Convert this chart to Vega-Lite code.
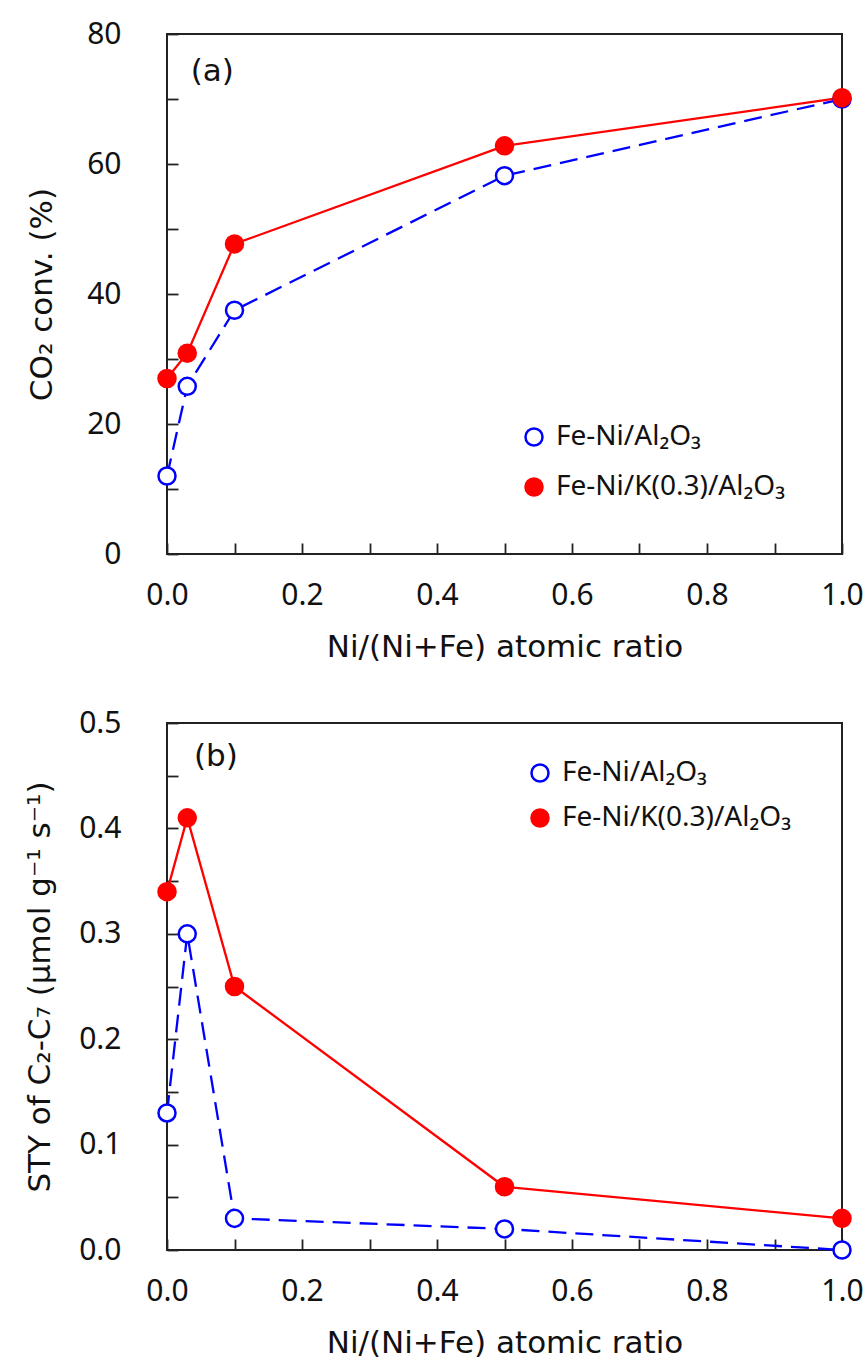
{
  "$schema": "https://vega.github.io/schema/vega-lite/v6.json",
  "background": "white",
  "padding": {"left": 23, "top": 18, "right": 20, "bottom": 0},
  "config": {
    "font": "Noto Sans",
    "view": {"stroke": "#222", "strokeWidth": 2},
    "axis": {
      "domain": false, "grid": false, "labelFlush": false,
      "tickColor": "#222", "tickWidth": 1.8, "tickSize": -11,
      "labelFont": "Noto Sans", "labelFontSize": 30, "labelColor": "#111", "labelPadding": 57,
      "titleFont": "DejaVu Sans", "titleFontSize": 31, "titleFontWeight": "normal", "titleColor": "#111"
    },
    "axisX": {"labelPadding": 37},
    "legend": {
      "title": null, "labelFont": "Noto Sans", "labelFontSize": 28, "labelColor": "#111", "labelLimit": 0,
      "symbolSize": 290, "symbolStrokeWidth": 2.5, "labelOffset": 8
    }
  },
  "datasets": {
    "a": [
      {"x": 0, "y": 12, "s": "Fe-Ni/Al₂O₃"},
      {"x": 0.03, "y": 25.8, "s": "Fe-Ni/Al₂O₃"},
      {"x": 0.1, "y": 37.5, "s": "Fe-Ni/Al₂O₃"},
      {"x": 0.5, "y": 58.2, "s": "Fe-Ni/Al₂O₃"},
      {"x": 1.0, "y": 70, "s": "Fe-Ni/Al₂O₃"},
      {"x": 0, "y": 27, "s": "Fe-Ni/K(0.3)/Al₂O₃"},
      {"x": 0.03, "y": 30.9, "s": "Fe-Ni/K(0.3)/Al₂O₃"},
      {"x": 0.1, "y": 47.7, "s": "Fe-Ni/K(0.3)/Al₂O₃"},
      {"x": 0.5, "y": 62.8, "s": "Fe-Ni/K(0.3)/Al₂O₃"},
      {"x": 1.0, "y": 70.2, "s": "Fe-Ni/K(0.3)/Al₂O₃"}
    ],
    "b": [
      {"x": 0, "y": 0.13, "s": "Fe-Ni/Al₂O₃"},
      {"x": 0.03, "y": 0.30, "s": "Fe-Ni/Al₂O₃"},
      {"x": 0.1, "y": 0.03, "s": "Fe-Ni/Al₂O₃"},
      {"x": 0.5, "y": 0.02, "s": "Fe-Ni/Al₂O₃"},
      {"x": 1.0, "y": 0.0, "s": "Fe-Ni/Al₂O₃"},
      {"x": 0, "y": 0.34, "s": "Fe-Ni/K(0.3)/Al₂O₃"},
      {"x": 0.03, "y": 0.41, "s": "Fe-Ni/K(0.3)/Al₂O₃"},
      {"x": 0.1, "y": 0.25, "s": "Fe-Ni/K(0.3)/Al₂O₃"},
      {"x": 0.5, "y": 0.06, "s": "Fe-Ni/K(0.3)/Al₂O₃"},
      {"x": 1.0, "y": 0.03, "s": "Fe-Ni/K(0.3)/Al₂O₃"}
    ]
  },
  "concat": [
    {
      "width": 675, "height": 520,
      "data": {"name": "a"},
      "encoding": {
        "x": {"field": "x", "type": "quantitative", "scale": {"domain": [0, 1], "nice": false},
              "axis": {"title": "Ni/(Ni+Fe) atomic ratio", "values": [0,0.1,0.2,0.3,0.4,0.5,0.6,0.7,0.8,0.9,1.0],
                       "labelExpr": "(round(datum.value*10) % 2 == 0) ? format(datum.value, '.1f') : ''", "titlePadding": 22}},
        "y": {"field": "y", "type": "quantitative", "scale": {"domain": [0, 80], "nice": false},
              "axis": {"title": "CO₂ conv. (%)", "values": [0,10,20,30,40,50,60,70,80],
                       "labelExpr": "(datum.value % 20 == 0) ? format(datum.value, 'd') : ''", "titlePadding": 28}}
      },
      "layer": [
        {"transform": [{"filter": "datum.s == 'Fe-Ni/Al₂O₃'"}],
         "mark": {"type": "line", "color": "#0000FF", "strokeWidth": 2.3, "strokeDash": [18, 9]}},
        {"transform": [{"filter": "datum.s != 'Fe-Ni/Al₂O₃'"}],
         "mark": {"type": "line", "color": "#FF0000", "strokeWidth": 2.3}},
        {"mark": {"type": "point", "shape": "circle", "size": 290, "strokeWidth": 2.5, "opacity": 1},
         "encoding": {
           "fill": {"field": "s", "type": "nominal", "scale": {"domain": ["Fe-Ni/Al₂O₃", "Fe-Ni/K(0.3)/Al₂O₃"], "range": ["white", "#FF0000"]},
                    "legend": {"orient": "none", "legendX": 353, "legendY": 389, "rowPadding": 22}},
           "stroke": {"field": "s", "type": "nominal", "scale": {"domain": ["Fe-Ni/Al₂O₃", "Fe-Ni/K(0.3)/Al₂O₃"], "range": ["#0000FF", "#FF0000"]},
                    "legend": {"orient": "none", "legendX": 353, "legendY": 389, "rowPadding": 22}}
         }},
        {"transform": [{"filter": "datum.x == 1 && datum.s == 'Fe-Ni/Al₂O₃'"}],
         "mark": {"type": "text", "text": "(a)", "font": "DejaVu Sans", "fontSize": 31, "align": "left", "baseline": "middle", "color": "#111"},
         "encoding": {"x": {"datum": 0.035}, "y": {"datum": 74.2}}}
      ]
    },
    {
      "width": 675, "height": 527,
      "data": {"name": "b"},
      "encoding": {
        "x": {"field": "x", "type": "quantitative", "scale": {"domain": [0, 1], "nice": false},
              "axis": {"title": "Ni/(Ni+Fe) atomic ratio", "values": [0,0.1,0.2,0.3,0.4,0.5,0.6,0.7,0.8,0.9,1.0],
                       "labelExpr": "(round(datum.value*10) % 2 == 0) ? format(datum.value, '.1f') : ''", "titlePadding": 22}},
        "y": {"field": "y", "type": "quantitative", "scale": {"domain": [0, 0.5], "nice": false},
              "axis": {"title": "STY of C₂-C₇ (μmol g⁻¹ s⁻¹)", "values": [0,0.05,0.1,0.15,0.2,0.25,0.3,0.35,0.4,0.45,0.5],
                       "labelExpr": "(round(datum.value*20) % 2 == 0) ? format(datum.value, '.1f') : ''", "titlePadding": 22}}
      },
      "layer": [
        {"transform": [{"filter": "datum.s == 'Fe-Ni/Al₂O₃'"}],
         "mark": {"type": "line", "color": "#0000FF", "strokeWidth": 2.3, "strokeDash": [18, 9]}},
        {"transform": [{"filter": "datum.s != 'Fe-Ni/Al₂O₃'"}],
         "mark": {"type": "line", "color": "#FF0000", "strokeWidth": 2.3}},
        {"mark": {"type": "point", "shape": "circle", "size": 290, "strokeWidth": 2.5, "opacity": 1},
         "encoding": {
           "fill": {"field": "s", "type": "nominal", "scale": {"domain": ["Fe-Ni/Al₂O₃", "Fe-Ni/K(0.3)/Al₂O₃"], "range": ["white", "#FF0000"]},
                    "legend": {"orient": "none", "legendX": 359, "legendY": 36, "rowPadding": 17}},
           "stroke": {"field": "s", "type": "nominal", "scale": {"domain": ["Fe-Ni/Al₂O₃", "Fe-Ni/K(0.3)/Al₂O₃"], "range": ["#0000FF", "#FF0000"]},
                    "legend": {"orient": "none", "legendX": 359, "legendY": 36, "rowPadding": 17}}
         }},
        {"transform": [{"filter": "datum.x == 1 && datum.s == 'Fe-Ni/Al₂O₃'"}],
         "mark": {"type": "text", "text": "(b)", "font": "DejaVu Sans", "fontSize": 31, "align": "left", "baseline": "middle", "color": "#111"},
         "encoding": {"x": {"datum": 0.04}, "y": {"datum": 0.468}}}
      ]
    }
  ],
  "columns": 1,
  "align": "none",
  "spacing": 44,
  "resolve": {"scale": {"fill": "independent", "stroke": "independent"}}
}
